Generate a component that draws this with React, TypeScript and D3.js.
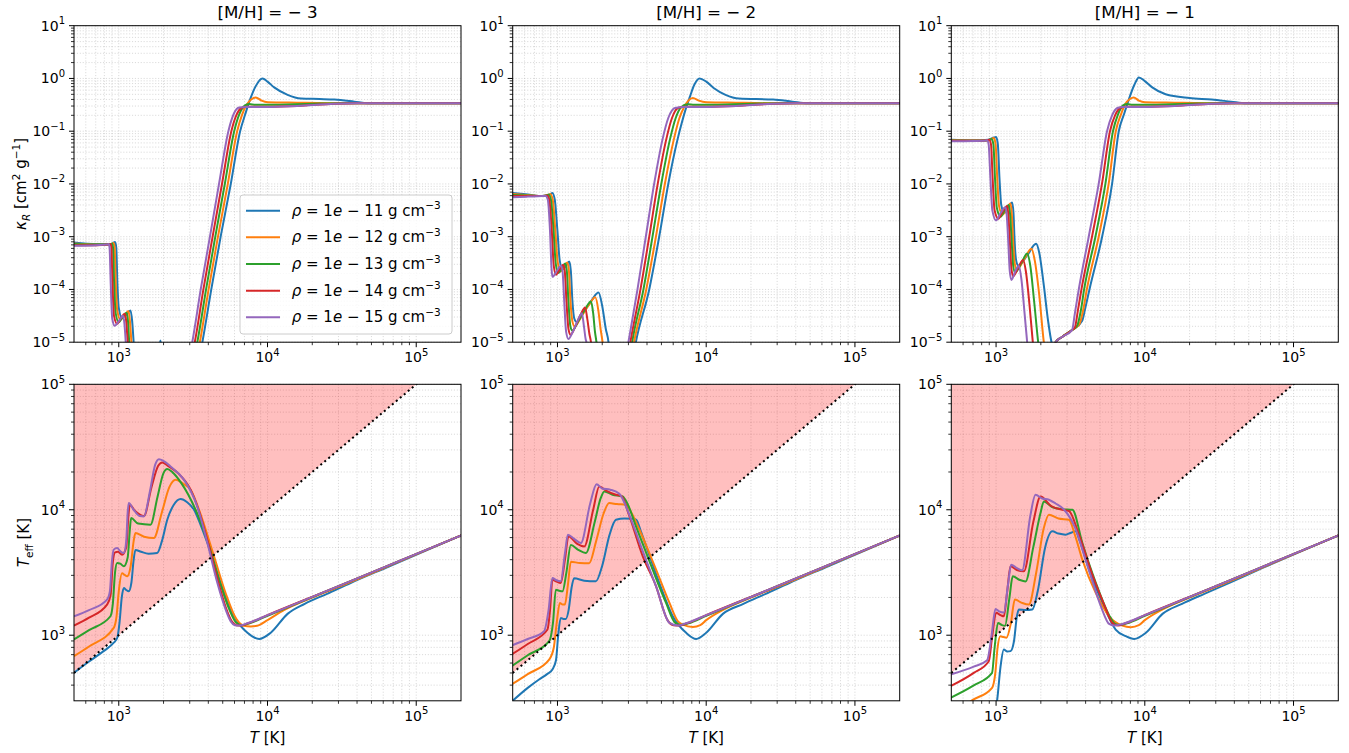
import React from 'react';
import * as d3 from 'd3';

type Pt = [number, number];

// ---- categories / labels ----
const metallicities = ['−3', '−2', '−1'];
const densityExponents = ['11', '12', '13', '14', '15'];
const seriesColors = ['#1f77b4', '#ff7f0e', '#2ca02c', '#d62728', '#9467bd'];

const xDomain: [number, number] = [500, 2e5];
const kappaDomain: [number, number] = [1e-5, 10];
const teffDomain: [number, number] = [300, 1e5];
const xMajor = [1e3, 1e4, 1e5];
const kappaMajor = [1e-5, 1e-4, 1e-3, 1e-2, 1e-1, 1, 10];
const teffMajor = [1e3, 1e4, 1e5];

// ---- data: [log10 T, log10 kappa_R], one list per density (1e-11 ... 1e-15) ----
const kappaMh3: Pt[][] = [
  [[2.699,-3.11],[2.85,-3.14],[2.95,-3.14],[2.975,-3.10],[2.983,-3.2],[2.991,-3.9],[3.0,-4.35],[3.022,-4.54],[3.05,-4.48],[3.079,-4.40],[3.09,-4.6],[3.10,-5.0],[3.115,-5.6],[3.25,-5.6],[3.28,-4.97],[3.31,-5.6],[3.52,-5.6],[3.562,-5],[3.622,-4],[3.685,-3],[3.753,-2],[3.816,-1],[3.85,-0.68],[3.88,-0.42],[3.92,-0.15],[3.966,0.0],[4.0,-0.06],[4.045,-0.17],[4.135,-0.31],[4.225,-0.38],[4.35,-0.39],[4.45,-0.40],[4.584,-0.44],[4.674,-0.47],[5.31,-0.47]],
  [[2.699,-3.13],[2.85,-3.15],[2.95,-3.15],[2.965,-3.12],[2.972,-3.2],[2.98,-3.9],[2.99,-4.4],[3.011,-4.57],[3.04,-4.49],[3.065,-4.41],[3.075,-4.6],[3.085,-5.0],[3.1,-5.6],[3.5,-5.6],[3.545,-5],[3.604,-4],[3.667,-3],[3.733,-2],[3.796,-1],[3.83,-0.68],[3.86,-0.5],[3.89,-0.4],[3.921,-0.36],[3.96,-0.42],[4.0,-0.45],[4.2,-0.46],[4.5,-0.47],[5.31,-0.47]],
  [[2.699,-3.14],[2.85,-3.15],[2.94,-3.15],[2.955,-3.13],[2.961,-3.2],[2.969,-3.9],[2.979,-4.45],[3.0,-4.62],[3.027,-4.52],[3.052,-4.44],[3.062,-4.6],[3.07,-5.0],[3.085,-5.6],[3.48,-5.6],[3.528,-5],[3.587,-4],[3.649,-3],[3.713,-2],[3.776,-1],[3.81,-0.68],[3.845,-0.52],[3.876,-0.485],[3.92,-0.5],[4.0,-0.5],[4.3,-0.48],[4.5,-0.47],[5.31,-0.47]],
  [[2.699,-3.16],[2.85,-3.16],[2.93,-3.15],[2.945,-3.14],[2.95,-3.2],[2.958,-3.9],[2.968,-4.5],[2.989,-4.65],[3.015,-4.54],[3.040,-4.46],[3.05,-4.6],[3.06,-5.0],[3.075,-5.6],[3.46,-5.6],[3.511,-5],[3.569,-4],[3.631,-3],[3.694,-2],[3.757,-1],[3.79,-0.7],[3.825,-0.56],[3.86,-0.535],[4.0,-0.535],[4.2,-0.52],[4.45,-0.48],[4.6,-0.47],[5.31,-0.47]],
  [[2.699,-3.17],[2.85,-3.16],[2.92,-3.15],[2.932,-3.14],[2.938,-3.2],[2.946,-3.9],[2.956,-4.55],[2.973,-4.69],[3.0,-4.6],[3.029,-4.50],[3.038,-4.65],[3.047,-5.0],[3.06,-5.6],[3.45,-5.6],[3.494,-5],[3.551,-4],[3.613,-3],[3.674,-2],[3.737,-1],[3.775,-0.66],[3.809,-0.55],[3.85,-0.54],[4.0,-0.54],[4.2,-0.52],[4.45,-0.48],[4.6,-0.47],[5.31,-0.47]],
];

const kappaMh2: Pt[][] = [
  [[2.699,-2.17],[2.8,-2.2],[2.9,-2.23],[2.95,-2.2],[2.966,-2.17],[2.982,-2.3],[3.0,-2.9],[3.015,-3.45],[3.035,-3.62],[3.058,-3.55],[3.079,-3.47],[3.09,-3.65],[3.10,-4.2],[3.113,-4.55],[3.13,-4.62],[3.17,-4.45],[3.22,-4.25],[3.276,-4.06],[3.30,-4.3],[3.325,-4.75],[3.343,-5.0],[3.36,-5.6],[3.49,-5.6],[3.527,-5],[3.617,-4],[3.684,-3],[3.745,-2],[3.807,-1.16],[3.835,-0.85],[3.86,-0.6],[3.89,-0.35],[3.92,-0.12],[3.955,0.0],[4.0,-0.06],[4.05,-0.18],[4.13,-0.31],[4.22,-0.38],[4.45,-0.40],[4.58,-0.44],[4.68,-0.47],[5.31,-0.47]],
  [[2.699,-2.19],[2.8,-2.21],[2.9,-2.23],[2.94,-2.21],[2.952,-2.19],[2.968,-2.3],[2.986,-2.9],[3.0,-3.45],[3.02,-3.66],[3.044,-3.57],[3.066,-3.49],[3.077,-3.65],[3.087,-4.2],[3.1,-4.6],[3.115,-4.70],[3.16,-4.52],[3.21,-4.3],[3.254,-4.15],[3.275,-4.4],[3.29,-4.75],[3.303,-5.0],[3.32,-5.6],[3.48,-5.6],[3.515,-5],[3.597,-4],[3.662,-3],[3.722,-2],[3.782,-1.16],[3.82,-0.75],[3.85,-0.55],[3.88,-0.42],[3.91,-0.37],[3.95,-0.42],[4.0,-0.45],[4.2,-0.46],[4.5,-0.47],[5.31,-0.47]],
  [[2.699,-2.21],[2.8,-2.22],[2.9,-2.23],[2.93,-2.215],[2.94,-2.2],[2.956,-2.3],[2.974,-2.9],[2.988,-3.5],[3.005,-3.69],[3.03,-3.6],[3.052,-3.51],[3.063,-3.65],[3.073,-4.2],[3.087,-4.7],[3.10,-4.78],[3.14,-4.6],[3.185,-4.38],[3.225,-4.23],[3.24,-4.45],[3.252,-4.8],[3.262,-5.0],[3.28,-5.6],[3.47,-5.6],[3.502,-5],[3.578,-4],[3.639,-3],[3.698,-2],[3.756,-1.16],[3.795,-0.75],[3.83,-0.55],[3.876,-0.49],[3.92,-0.5],[4.0,-0.5],[4.3,-0.48],[4.5,-0.47],[5.31,-0.47]],
  [[2.699,-2.23],[2.8,-2.23],[2.9,-2.23],[2.93,-2.22],[2.945,-2.3],[2.962,-2.9],[2.975,-3.55],[2.99,-3.72],[3.015,-3.62],[3.038,-3.53],[3.049,-3.65],[3.06,-4.2],[3.074,-4.75],[3.088,-4.86],[3.12,-4.7],[3.155,-4.48],[3.186,-4.34],[3.2,-4.55],[3.215,-4.85],[3.225,-5.0],[3.24,-5.6],[3.455,-5.6],[3.49,-5],[3.558,-4],[3.617,-3],[3.674,-2],[3.731,-1.16],[3.77,-0.75],[3.81,-0.56],[3.86,-0.535],[4.0,-0.535],[4.2,-0.52],[4.45,-0.48],[4.6,-0.47],[5.31,-0.47]],
  [[2.699,-2.25],[2.8,-2.24],[2.9,-2.23],[2.92,-2.23],[2.935,-2.3],[2.950,-2.9],[2.96,-3.6],[2.966,-3.76],[2.995,-3.65],[3.023,-3.55],[3.034,-3.65],[3.045,-4.2],[3.058,-4.8],[3.074,-4.94],[3.10,-4.82],[3.135,-4.6],[3.164,-4.45],[3.178,-4.7],[3.19,-4.95],[3.195,-5.0],[3.21,-5.6],[3.44,-5.6],[3.477,-5],[3.538,-4],[3.594,-3],[3.65,-2],[3.706,-1.16],[3.745,-0.75],[3.79,-0.56],[3.85,-0.54],[4.0,-0.54],[4.2,-0.52],[4.45,-0.48],[4.6,-0.47],[5.31,-0.47]],
];

const kappaMh1: Pt[][] = [
  [[2.69,-1.16],[2.85,-1.17],[2.95,-1.16],[2.985,-1.12],[3.0,-1.11],[3.012,-1.25],[3.023,-1.9],[3.035,-2.4],[3.055,-2.55],[3.08,-2.45],[3.108,-2.35],[3.117,-2.55],[3.125,-3.1],[3.135,-3.45],[3.15,-3.55],[3.21,-3.35],[3.269,-3.135],[3.29,-3.3],[3.32,-3.9],[3.35,-4.6],[3.373,-5.0],[3.385,-5.1],[3.40,-5.0],[3.444,-4.9],[3.511,-4.77],[3.578,-4.6],[3.60,-4.35],[3.628,-4],[3.713,-3],[3.78,-2],[3.825,-1],[3.86,-0.68],[3.89,-0.42],[3.93,-0.12],[3.96,0.02],[4.0,-0.05],[4.05,-0.17],[4.14,-0.3],[4.3,-0.37],[4.45,-0.40],[4.58,-0.44],[4.68,-0.47],[5.31,-0.47]],
  [[2.69,-1.17],[2.85,-1.175],[2.95,-1.17],[2.985,-1.13],[2.997,-1.25],[3.008,-1.9],[3.02,-2.42],[3.043,-2.58],[3.07,-2.47],[3.097,-2.37],[3.106,-2.58],[3.115,-3.1],[3.125,-3.5],[3.14,-3.62],[3.19,-3.42],[3.238,-3.23],[3.26,-3.45],[3.29,-4.1],[3.321,-5.0],[3.35,-5.5],[3.39,-5.1],[3.40,-5.0],[3.444,-4.9],[3.511,-4.77],[3.56,-4.66],[3.585,-4.4],[3.61,-4],[3.69,-3],[3.757,-2],[3.805,-1],[3.84,-0.68],[3.87,-0.48],[3.9,-0.39],[3.925,-0.36],[3.96,-0.42],[4.0,-0.45],[4.2,-0.46],[4.5,-0.47],[5.31,-0.47]],
  [[2.69,-1.175],[2.85,-1.18],[2.94,-1.175],[2.97,-1.15],[2.982,-1.25],[2.993,-1.9],[3.005,-2.45],[3.03,-2.62],[3.058,-2.5],[3.086,-2.40],[3.095,-2.6],[3.105,-3.1],[3.115,-3.55],[3.128,-3.68],[3.17,-3.5],[3.209,-3.32],[3.23,-3.55],[3.255,-4.2],[3.283,-5.0],[3.31,-5.6],[3.38,-5.3],[3.40,-5.0],[3.444,-4.9],[3.511,-4.77],[3.545,-4.69],[3.57,-4.4],[3.592,-4],[3.668,-3],[3.735,-2],[3.786,-1],[3.82,-0.68],[3.85,-0.52],[3.88,-0.485],[3.92,-0.5],[4.0,-0.5],[4.3,-0.48],[4.5,-0.47],[5.31,-0.47]],
  [[2.69,-1.18],[2.85,-1.18],[2.93,-1.175],[2.955,-1.16],[2.966,-1.25],[2.977,-1.9],[2.99,-2.5],[3.015,-2.66],[3.045,-2.52],[3.075,-2.42],[3.083,-2.6],[3.093,-3.1],[3.103,-3.6],[3.115,-3.75],[3.15,-3.58],[3.182,-3.44],[3.2,-3.65],[3.225,-4.3],[3.247,-5.0],[3.27,-5.6],[3.37,-5.4],[3.40,-5.0],[3.444,-4.9],[3.511,-4.77],[3.53,-4.72],[3.55,-4.4],[3.574,-4],[3.645,-3],[3.712,-2],[3.766,-1],[3.8,-0.7],[3.835,-0.56],[3.87,-0.535],[4.0,-0.535],[4.2,-0.52],[4.45,-0.48],[4.6,-0.47],[5.31,-0.47]],
  [[2.69,-1.19],[2.85,-1.185],[2.92,-1.18],[2.94,-1.17],[2.95,-1.25],[2.962,-1.9],[2.975,-2.5],[3.0,-2.69],[3.03,-2.55],[3.063,-2.44],[3.072,-2.6],[3.082,-3.1],[3.092,-3.65],[3.103,-3.82],[3.13,-3.65],[3.153,-3.55],[3.17,-3.8],[3.19,-4.4],[3.209,-5.0],[3.23,-5.6],[3.36,-5.5],[3.40,-5.0],[3.444,-4.9],[3.511,-4.77],[3.53,-4.45],[3.556,-4],[3.623,-3],[3.690,-2],[3.746,-1],[3.78,-0.7],[3.815,-0.56],[3.85,-0.54],[4.0,-0.54],[4.2,-0.52],[4.45,-0.48],[4.6,-0.47],[5.31,-0.47]],
];

// ---- data: [log10 T, log10 T_eff] ----
const teffMh3: Pt[][] = [
  [[2.699,2.70],[2.80,2.79],[2.90,2.875],[2.966,2.94],[2.99,2.98],[3.005,3.1],[3.02,3.3],[3.034,3.376],[3.05,3.36],[3.067,3.35],[3.085,3.42],[3.10,3.6],[3.112,3.68],[3.15,3.665],[3.20,3.65],[3.258,3.655],[3.29,3.75],[3.326,3.92],[3.37,4.04],[3.416,4.085],[3.46,4.06],[3.506,4.0],[3.55,3.88],[3.596,3.735],[3.685,3.416],[3.775,3.151],[3.865,3.019],[3.944,2.97],[4.022,3.02],[4.135,3.17],[4.25,3.25],[4.4,3.33],[4.562,3.418],[4.8,3.54],[5.303,3.796]],
  [[2.699,2.833],[2.80,2.91],[2.966,3.058],[2.985,3.15],[3.0,3.35],[3.022,3.494],[3.04,3.48],[3.056,3.47],[3.08,3.55],[3.10,3.75],[3.112,3.814],[3.17,3.785],[3.236,3.775],[3.29,3.98],[3.34,4.18],[3.382,4.239],[3.43,4.21],[3.483,4.16],[3.56,3.93],[3.64,3.63],[3.72,3.33],[3.79,3.13],[3.84,3.075],[3.888,3.07],[3.93,3.075],[4.0,3.12],[4.11,3.2],[4.3,3.3],[4.5,3.395],[4.9,3.595],[5.303,3.796]],
  [[2.699,2.966],[2.80,3.04],[2.944,3.151],[2.96,3.25],[2.975,3.50],[2.989,3.576],[3.01,3.57],[3.034,3.55],[3.06,3.62],[3.075,3.85],[3.083,3.934],[3.13,3.89],[3.213,3.881],[3.26,4.1],[3.30,4.29],[3.326,4.324],[3.36,4.30],[3.416,4.22],[3.52,3.99],[3.61,3.70],[3.68,3.42],[3.745,3.20],[3.79,3.10],[3.831,3.08],[3.88,3.095],[4.0,3.155],[4.449,3.377],[4.9,3.599],[5.303,3.796]],
  [[2.699,3.077],[2.80,3.14],[2.921,3.244],[2.945,3.32],[2.96,3.58],[2.975,3.66],[2.995,3.665],[3.022,3.642],[3.05,3.70],[3.065,3.95],[3.074,4.04],[3.11,3.99],[3.169,3.95],[3.22,4.18],[3.265,4.35],[3.292,4.377],[3.33,4.35],[3.40,4.29],[3.483,4.16],[3.55,3.95],[3.60,3.74],[3.663,3.45],[3.72,3.22],[3.76,3.11],[3.79,3.08],[3.82,3.077],[3.87,3.095],[4.0,3.16],[4.449,3.377],[4.9,3.599],[5.303,3.796]],
  [[2.699,3.151],[2.80,3.20],[2.921,3.284],[2.94,3.35],[2.955,3.6],[2.966,3.682],[2.989,3.695],[3.01,3.67],[3.034,3.655],[3.05,3.75],[3.06,3.98],[3.067,4.053],[3.10,4.0],[3.14,3.95],[3.169,3.947],[3.21,4.15],[3.245,4.36],[3.27,4.403],[3.30,4.39],[3.348,4.345],[3.438,4.24],[3.528,4.026],[3.596,3.735],[3.663,3.416],[3.72,3.20],[3.753,3.11],[3.78,3.08],[3.809,3.077],[3.865,3.095],[4.0,3.16],[4.449,3.377],[4.9,3.599],[5.303,3.796]],
];

const teffMh2: Pt[][] = [
  [[2.692,2.47],[2.80,2.58],[2.876,2.647],[2.93,2.69],[2.966,2.727],[2.99,2.80],[3.005,3.0],[3.022,3.138],[3.04,3.13],[3.056,3.13],[3.075,3.2],[3.095,3.38],[3.112,3.454],[3.18,3.435],[3.258,3.43],[3.30,3.55],[3.35,3.80],[3.393,3.92],[3.45,3.93],[3.506,3.928],[3.53,3.92],[3.56,3.83],[3.596,3.711],[3.685,3.416],[3.775,3.151],[3.865,3.019],[3.933,2.97],[4.0,3.019],[4.112,3.17],[4.25,3.25],[4.4,3.33],[4.562,3.418],[4.8,3.54],[5.303,3.796]],
  [[2.692,2.607],[2.80,2.69],[2.944,2.806],[2.975,2.9],[2.995,3.1],[3.016,3.257],[3.035,3.245],[3.05,3.245],[3.07,3.4],[3.09,3.586],[3.15,3.575],[3.213,3.573],[3.26,3.75],[3.31,3.97],[3.348,4.053],[3.40,4.045],[3.461,4.04],[3.50,3.97],[3.551,3.841],[3.663,3.522],[3.753,3.257],[3.81,3.11],[3.843,3.085],[3.91,3.066],[3.96,3.08],[4.0,3.12],[4.11,3.2],[4.3,3.3],[4.5,3.395],[4.9,3.595],[5.303,3.796]],
  [[2.692,2.753],[2.80,2.84],[2.944,2.952],[2.97,3.1],[2.989,3.363],[3.01,3.355],[3.034,3.35],[3.06,3.5],[3.09,3.719],[3.14,3.68],[3.191,3.655],[3.25,3.9],[3.29,4.09],[3.315,4.146],[3.37,4.12],[3.438,4.106],[3.47,4.05],[3.528,3.867],[3.64,3.522],[3.73,3.257],[3.79,3.10],[3.831,3.082],[3.88,3.095],[4.0,3.155],[4.449,3.377],[4.9,3.599],[5.303,3.796]],
  [[2.692,2.846],[2.80,2.93],[2.933,3.045],[2.95,3.2],[2.966,3.443],[2.99,3.43],[3.022,3.416],[3.05,3.6],[3.074,3.788],[3.13,3.73],[3.18,3.708],[3.24,4.0],[3.281,4.186],[3.33,4.15],[3.393,4.119],[3.43,4.11],[3.483,3.95],[3.573,3.63],[3.663,3.39],[3.74,3.12],[3.78,3.08],[3.82,3.077],[3.87,3.095],[4.0,3.16],[4.449,3.377],[4.9,3.599],[5.303,3.796]],
  [[2.692,2.918],[2.80,2.97],[2.91,3.032],[2.94,3.2],[2.966,3.456],[2.99,3.44],[3.022,3.43],[3.05,3.65],[3.07,3.801],[3.11,3.77],[3.157,3.735],[3.22,4.05],[3.263,4.204],[3.30,4.17],[3.355,4.16],[3.416,4.127],[3.483,3.96],[3.573,3.67],[3.663,3.39],[3.753,3.098],[3.809,3.077],[3.865,3.095],[4.0,3.16],[4.449,3.377],[4.9,3.599],[5.303,3.796]],
];

const teffMh1: Pt[][] = [
  [[2.69,2.1],[2.95,2.25],[2.99,2.38],[3.007,2.48],[3.03,2.75],[3.052,2.886],[3.075,2.87],[3.097,2.873],[3.12,2.95],[3.14,3.15],[3.153,3.204],[3.20,3.20],[3.243,3.204],[3.28,3.35],[3.33,3.70],[3.378,3.828],[3.42,3.81],[3.467,3.801],[3.50,3.815],[3.535,3.828],[3.56,3.76],[3.625,3.523],[3.715,3.257],[3.804,3.045],[3.872,2.992],[3.928,2.97],[4.007,3.019],[4.119,3.17],[4.25,3.25],[4.4,3.33],[4.569,3.418],[4.8,3.54],[5.303,3.796]],
  [[2.69,2.35],[2.838,2.48],[2.973,2.581],[2.995,2.7],[3.01,2.9],[3.029,2.992],[3.05,2.985],[3.07,2.98],[3.10,3.1],[3.126,3.284],[3.17,3.26],[3.22,3.244],[3.27,3.5],[3.32,3.85],[3.355,3.961],[3.42,3.93],[3.49,3.92],[3.53,3.8],[3.58,3.602],[3.67,3.337],[3.76,3.151],[3.849,3.077],[3.906,3.064],[3.96,3.08],[4.0,3.12],[4.11,3.2],[4.3,3.3],[4.5,3.395],[4.9,3.595],[5.303,3.796]],
  [[2.694,2.501],[2.85,2.6],[2.973,2.7],[2.99,2.9],[3.013,3.098],[3.04,3.08],[3.06,3.075],[3.09,3.3],[3.112,3.469],[3.16,3.44],[3.198,3.429],[3.25,3.7],[3.30,3.98],[3.321,4.066],[3.38,4.02],[3.445,4.005],[3.513,4.0],[3.58,3.735],[3.67,3.42],[3.76,3.16],[3.80,3.09],[3.831,3.082],[3.88,3.095],[4.0,3.155],[4.449,3.377],[4.9,3.599],[5.303,3.796]],
  [[2.694,2.594],[2.85,2.7],[2.951,2.793],[2.975,3.0],[3.0,3.178],[3.03,3.16],[3.052,3.151],[3.075,3.35],[3.097,3.549],[3.14,3.52],[3.187,3.509],[3.25,3.9],[3.299,4.106],[3.37,4.03],[3.445,4.0],[3.49,3.99],[3.555,3.81],[3.645,3.49],[3.735,3.22],[3.78,3.10],[3.82,3.077],[3.87,3.095],[4.0,3.16],[4.449,3.377],[4.9,3.599],[5.303,3.796]],
  [[2.694,2.687],[2.85,2.75],[2.94,2.80],[2.97,3.0],[2.996,3.209],[3.02,3.19],[3.052,3.18],[3.08,3.4],[3.101,3.562],[3.14,3.535],[3.175,3.517],[3.23,3.95],[3.265,4.119],[3.31,4.09],[3.355,4.08],[3.40,4.05],[3.458,4.0],[3.53,3.86],[3.618,3.54],[3.708,3.22],[3.76,3.09],[3.793,3.077],[3.85,3.09],[4.0,3.16],[4.449,3.377],[4.9,3.599],[5.303,3.796]],
];

const kappaSets = [kappaMh3, kappaMh2, kappaMh1];
const teffSets = [teffMh3, teffMh2, teffMh1];

// ---- layout ----
const W = 1349, H = 753;
const LEFTS = [74, 512.7, 951.3];
const TOPS = [25.7, 384.3];
const PW = 387, PH = 316.5;
const FONT = 'DejaVu Sans, sans-serif';

function minorTicks(lo: number, hi: number) {
  const out: number[] = [];
  for (let e = Math.floor(Math.log10(lo)); e <= Math.ceil(Math.log10(hi)); e++) {
    for (let k = 2; k <= 9; k++) {
      const v = k * Math.pow(10, e);
      if (v > lo * 1.0001 && v < hi * 0.9999) out.push(v);
    }
  }
  return out;
}

const expLabel = (v: number) => {
  const e = Math.round(Math.log10(v));
  return e < 0 ? '−' + -e : String(e);
};

function Panel({ row, col }: { row: number; col: number }) {
  const left = LEFTS[col], top = TOPS[row];
  const bottom = top + PH, right = left + PW;
  const x = d3.scaleLog().domain(xDomain).range([left, right]);
  const yDom = row === 0 ? kappaDomain : teffDomain;
  const y = d3.scaleLog().domain(yDom).range([bottom, top]);
  const yMajor = row === 0 ? kappaMajor : teffMajor;
  const sets = (row === 0 ? kappaSets : teffSets)[col];
  const line = d3.line<Pt>()
    .x(d => x(Math.pow(10, d[0])))
    .y(d => y(Math.pow(10, d[1])))
    .curve(d3.curveMonotoneX);
  const clipId = `clip-${row}-${col}`;
  const xMinor = minorTicks(xDomain[0], xDomain[1]);
  const yMinor = minorTicks(yDom[0], yDom[1]);
  const gridStyle = { stroke: '#b0b0b0', strokeWidth: 0.8, strokeDasharray: '1.1,1.8', strokeOpacity: 0.6 };

  const diag = d3.line<[number, number]>().x(d => x(d[0])).y(d => y(d[1]));

  return (
    <g>
      <defs>
        <clipPath id={clipId}>
          <rect x={left} y={top} width={PW} height={PH} />
        </clipPath>
      </defs>
      <rect x={left} y={top} width={PW} height={PH} fill="#fff" />
      {/* grid */}
      {[...xMajor, ...xMinor].map((v, i) => (
        <line key={'gx' + i} x1={x(v)} x2={x(v)} y1={top} y2={bottom} {...gridStyle} />
      ))}
      {[...yMajor, ...yMinor].map((v, i) => (
        <line key={'gy' + i} x1={left} x2={right} y1={y(v)} y2={y(v)} {...gridStyle} />
      ))}
      <g clipPath={`url(#${clipId})`}>
        {row === 1 && (
          <path d={diag([[xDomain[0], xDomain[0]], [1e5, 1e5], [xDomain[0], 1e5]])! + 'Z'} fill="red" fillOpacity={0.25} stroke="none" />
        )}
        {sets.map((s, i) => (
          <path key={i} d={line(s) || ''} fill="none" stroke={seriesColors[i]} strokeWidth={2} strokeLinejoin="round" />
        ))}
        {row === 1 && (
          <path d={diag([[xDomain[0], xDomain[0]], [2e5, 2e5]]) || ''} fill="none" stroke="#000" strokeWidth={2} strokeDasharray="2,3.2" />
        )}
      </g>
      {/* spines */}
      <rect x={left} y={top} width={PW} height={PH} fill="none" stroke="#000" strokeWidth={1} />
      {/* x ticks */}
      {xMajor.map((v, i) => (
        <g key={'xt' + i}>
          <line x1={x(v)} x2={x(v)} y1={bottom} y2={bottom + 5} stroke="#000" strokeWidth={1} />
          <text x={x(v)} y={bottom + 20} textAnchor="middle" fontSize={14} fontFamily={FONT}>
            10<tspan dy={-6.5} fontSize={10}>{expLabel(v)}</tspan>
          </text>
        </g>
      ))}
      {xMinor.map((v, i) => (
        <line key={'xm' + i} x1={x(v)} x2={x(v)} y1={bottom} y2={bottom + 3} stroke="#000" strokeWidth={0.8} />
      ))}
      {/* y ticks */}
      {yMajor.map((v, i) => (
        <g key={'yt' + i}>
          <line x1={left - 5} x2={left} y1={y(v)} y2={y(v)} stroke="#000" strokeWidth={1} />
          <text x={left - 9} y={y(v) + 5} textAnchor="end" fontSize={14} fontFamily={FONT}>
            10<tspan dy={-6.5} fontSize={10}>{expLabel(v)}</tspan>
          </text>
        </g>
      ))}
      {yMinor.map((v, i) => (
        <line key={'ym' + i} x1={left - 3} x2={left} y1={y(v)} y2={y(v)} stroke="#000" strokeWidth={0.8} />
      ))}
      {row === 0 && (
        <text x={left + PW / 2} y={18} textAnchor="middle" fontSize={16.7} fontFamily={FONT}>
          [M/H] = {metallicities[col].replace('−', '− ')}
        </text>
      )}
      {row === 1 && (
        <text x={left + PW / 2} y={743} textAnchor="middle" fontSize={15} fontFamily={FONT}>
          <tspan fontStyle="italic">T</tspan> [K]
        </text>
      )}
    </g>
  );
}

function Legend() {
  const lx = 240, ly = 195;
  return (
    <g>
      <rect x={lx} y={ly} width={212} height={139} rx={3} fill="#fff" fillOpacity={0.8} stroke="#cccccc" strokeWidth={1} />
      {densityExponents.map((d, i) => {
        const yy = 210.7 + i * 26.65;
        return (
          <g key={d}>
            <line x1={246} x2={280} y1={yy} y2={yy} stroke={seriesColors[i]} strokeWidth={2} />
            <text x={291.7} y={yy + 5} fontSize={15} fontFamily={FONT}>
              <tspan fontStyle="italic">ρ</tspan> = 1<tspan fontStyle="italic">e</tspan> − {d} g cm
              <tspan dy={-6.5} fontSize={10.5}>−3</tspan>
            </text>
          </g>
        );
      })}
    </g>
  );
}

export default function App() {
  return (
    <svg width={W} height={H} viewBox={`0 0 ${W} ${H}`} style={{ position: 'absolute', left: 0, top: 0, background: '#fff' }}>
      <rect x={0} y={0} width={W} height={H} fill="#fff" />
      {[0, 1].map(r => [0, 1, 2].map(c => <Panel key={`${r}-${c}`} row={r} col={c} />))}
      <Legend />
      <text transform={`translate(26,${TOPS[0] + PH / 2}) rotate(-90)`} textAnchor="middle" fontSize={15} fontFamily={FONT}>
        <tspan fontStyle="italic">κ</tspan><tspan dy={3.5} fontSize={10.5} fontStyle="italic">R</tspan><tspan dy={-3.5}> [cm</tspan><tspan dy={-6} fontSize={10.5}>2</tspan><tspan dy={6}> g</tspan><tspan dy={-6} fontSize={10.5}>−1</tspan><tspan dy={6}>]</tspan>
      </text>
      <text transform={`translate(29,${TOPS[1] + PH / 2}) rotate(-90)`} textAnchor="middle" fontSize={15} fontFamily={FONT}>
        <tspan fontStyle="italic">T</tspan><tspan dy={3.5} fontSize={10.5}>eff</tspan><tspan dy={-3.5}> [K]</tspan>
      </text>
    </svg>
  );
}
